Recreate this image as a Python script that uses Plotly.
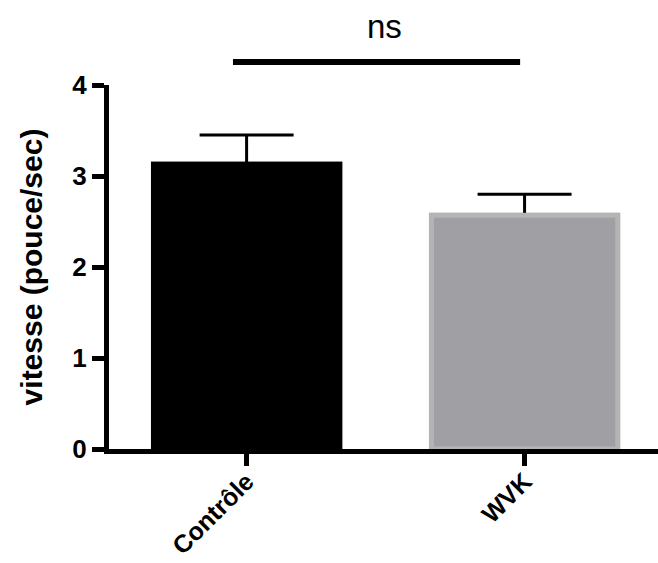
import plotly.graph_objects as go

categories = ["Contrôle", "WVK"]
means = [3.13, 2.57]
errors = [0.32, 0.23]
fill_colors = ["#000000", "#a09fa4"]
edge_colors = ["#000000", "#b4b4b4"]
y_ticks = [0, 1, 2, 3, 4]
y_title = "vitesse (pouce/sec)"
sig_label = "ns"

FONT = "Liberation Sans, Arial, Helvetica, sans-serif"
x_pos = list(range(len(categories)))

fig = go.Figure()
# bars carrying the error bars
fig.add_trace(go.Bar(
    x=x_pos, y=means, width=0.67,
    marker=dict(color=fill_colors, line=dict(color=edge_colors, width=5)),
    error_y=dict(type="data", symmetric=False, array=errors,
                 arrayminus=[0] * len(means), color="#000000", thickness=3, width=47),
    showlegend=False, hoverinfo="skip",
))
# same bars drawn on top to hide the lower caps
fig.add_trace(go.Bar(
    x=x_pos, y=means, width=0.67,
    marker=dict(color=fill_colors, line=dict(color=edge_colors, width=5)),
    showlegend=False,
))

fig.update_layout(
    width=658, height=563,
    margin=dict(l=109, r=0, t=85, b=114, autoexpand=False),
    plot_bgcolor="white", paper_bgcolor="white",
    font=dict(family=FONT, color="#000000"),
    barmode="overlay",
    xaxis=dict(
        automargin=False,
        range=[-0.495, 1.48],
        tickmode="array", tickvals=x_pos, ticktext=categories,
        tickangle=-45,
        ticklabelstandoff=-9,
        showline=True, linecolor="#000000", linewidth=5,
        ticks="outside", ticklen=12, tickwidth=5, tickcolor="#000000",
        tickfont=dict(family=FONT, size=25, color="#000000", weight="bold"),
        showgrid=False, zeroline=False,
    ),
    yaxis=dict(
        automargin=False,
        range=[0, 4],
        tickmode="array", tickvals=y_ticks,
        showline=True, linecolor="#000000", linewidth=5,
        ticks="outside", ticklen=12, tickwidth=5, tickcolor="#000000",
        tickfont=dict(family=FONT, size=26, color="#000000", weight="bold"),
        showgrid=False, zeroline=False,
        title=dict(text=y_title, standoff=22,
                   font=dict(family=FONT, size=30, color="#000000", weight="bold")),
    ),
)

fig.add_shape(type="line", xref="x", yref="paper",
              x0=-0.049, x1=0.984, y0=1.063, y1=1.063,
              line=dict(color="#000000", width=6))
fig.add_annotation(text=sig_label, xref="x", yref="paper", x=0.497, y=1.16,
                   showarrow=False, xanchor="center", yanchor="middle",
                   font=dict(family=FONT, size=33, color="#000000"))

fig.write_html("out.html")
